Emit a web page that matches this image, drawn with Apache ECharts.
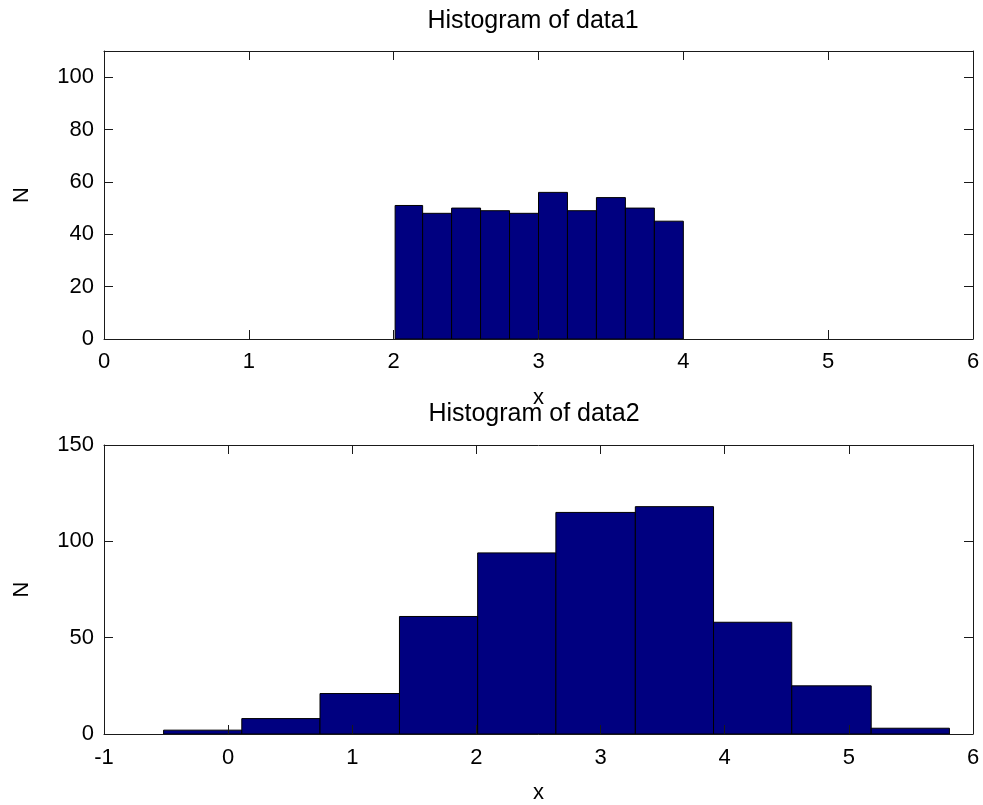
<!DOCTYPE html>
<html>
<head>
<meta charset="utf-8">
<script src="https://cdn.jsdelivr.net/npm/echarts@6/dist/echarts.min.js"></script>
<style>
  html, body { margin: 0; padding: 0; background: #fff; }
  #chart { width: 983px; height: 805px; }
</style>
</head>
<body>
<div id="chart"></div>
<script>
// ---- data ----
const title1 = 'Histogram of data1';
const title2 = 'Histogram of data2';
const xName = 'x';
const yName = 'N';

const edges1 = [2.01, 2.20, 2.40, 2.60, 2.80, 3.00, 3.20, 3.40, 3.60, 3.80, 4.00];
const counts1 = [51, 48, 50, 49, 48, 56, 49, 54, 50, 45];

const edges2 = [-0.52, 0.11, 0.74, 1.38, 2.01, 2.64, 3.28, 3.91, 4.54, 5.18, 5.81];
const counts2 = [2, 8, 21, 61, 94, 115, 118, 58, 25, 3];

const xRange1 = [0, 6], xStep1 = 1;
const yRange1 = [0, 110], yStep1 = 20;
const xRange2 = [-1, 6], xStep2 = 1;
const yRange2 = [0, 150], yStep2 = 50;

// ---- build ----
const FONT = "'Liberation Sans', Arial, Helvetica, sans-serif";
const AX = '#1a1a1a';
const TXT = '#000000';

function binData(edges, counts) {
  return counts.map((c, i) => [edges[i], edges[i + 1], c]);
}

function renderHist(params, api) {
  const x0 = api.value(0), x1 = api.value(1), n = api.value(2);
  const p0 = api.coord([x0, 0]);
  const p1 = api.coord([x1, n]);
  return {
    type: 'rect',
    shape: { x: p0[0], y: p1[1], width: p1[0] - p0[0], height: p0[1] - p1[1] },
    style: { fill: '#000080', stroke: '#000000', lineWidth: 1 }
  };
}

function mainX(gridIndex, range, step, gap, margin) {
  return {
    type: 'value', gridIndex, min: range[0], max: range[1], interval: step,
    position: 'bottom', z: 5,
    name: xName, nameLocation: 'middle', nameGap: gap,
    nameTextStyle: { fontFamily: FONT, fontSize: 22, color: TXT },
    axisLine: { show: true, onZero: false, lineStyle: { color: AX, width: 1 } },
    axisTick: { show: true, inside: true, length: 9, lineStyle: { color: AX } },
    axisLabel: { show: true, margin: margin, fontFamily: FONT, fontSize: 22, color: TXT },
    splitLine: { show: false }
  };
}
function mirrorX(gridIndex, range, step) {
  return {
    type: 'value', gridIndex, min: range[0], max: range[1], interval: step,
    position: 'top', z: 5,
    axisLine: { show: true, onZero: false, lineStyle: { color: AX, width: 1 } },
    axisTick: { show: true, inside: true, length: 9, lineStyle: { color: AX } },
    axisLabel: { show: false },
    splitLine: { show: false }
  };
}
function mainY(gridIndex, range, step) {
  return {
    type: 'value', gridIndex, min: range[0], max: range[1], interval: step,
    position: 'left', z: 5,
    name: yName, nameLocation: 'middle', nameGap: 71, nameRotate: 90,
    nameTextStyle: { fontFamily: FONT, fontSize: 22, color: TXT },
    axisLine: { show: true, onZero: false, lineStyle: { color: AX, width: 1 } },
    axisTick: { show: true, inside: true, length: 9, lineStyle: { color: AX } },
    axisLabel: { show: true, margin: 10, fontFamily: FONT, fontSize: 22, color: TXT, showMaxLabel: range[1] % step === 0 },
    splitLine: { show: false }
  };
}
function mirrorY(gridIndex, range, step) {
  return {
    type: 'value', gridIndex, min: range[0], max: range[1], interval: step,
    position: 'right', z: 5,
    axisLine: { show: true, onZero: false, lineStyle: { color: AX, width: 1 } },
    axisTick: { show: true, inside: true, length: 9, lineStyle: { color: AX } },
    axisLabel: { show: false },
    splitLine: { show: false }
  };
}

const chart = echarts.init(document.getElementById('chart'), null, { renderer: 'canvas' });
chart.setOption({
  backgroundColor: '#ffffff',
  animation: false,
  grid: [
    { left: 104, top: 51, width: 869, height: 288 },
    { left: 104, top: 445, width: 869, height: 290 }
  ],
  xAxis: [
    mainX(0, xRange1, xStep1, 48, 12), mirrorX(0, xRange1, xStep1),
    mainX(1, xRange2, xStep2, 48, 13), mirrorX(1, xRange2, xStep2)
  ],
  yAxis: [
    mainY(0, yRange1, yStep1), mirrorY(0, yRange1, yStep1),
    mainY(1, yRange2, yStep2), mirrorY(1, yRange2, yStep2)
  ],
  graphic: [
    { type: 'text', x: 533, y: 21, style: { text: title1, font: '25px ' + FONT, fill: TXT, textAlign: 'center', textVerticalAlign: 'middle' } },
    { type: 'text', x: 534, y: 414, style: { text: title2, font: '25px ' + FONT, fill: TXT, textAlign: 'center', textVerticalAlign: 'middle' } }
  ],
  series: [
    { type: 'custom', xAxisIndex: 0, yAxisIndex: 0, renderItem: renderHist,
      encode: { x: [0, 1], y: 2 }, data: binData(edges1, counts1), z: 2 },
    { type: 'custom', xAxisIndex: 2, yAxisIndex: 2, renderItem: renderHist,
      encode: { x: [0, 1], y: 2 }, data: binData(edges2, counts2), z: 2 }
  ]
});
</script>
</body>
</html>
